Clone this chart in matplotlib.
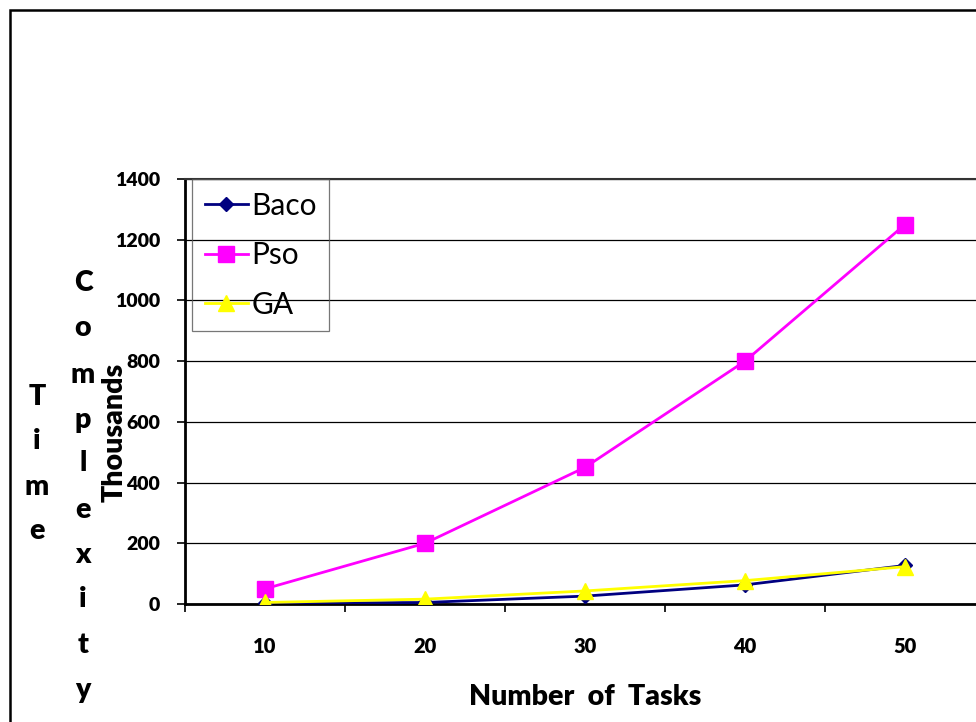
import matplotlib
matplotlib.use("Agg")
import matplotlib.pyplot as plt
from matplotlib.patches import Rectangle
from matplotlib.ticker import FixedLocator, NullFormatter, FixedFormatter

plt.rcParams['font.family'] = ['Lato', 'DejaVu Sans']

categories = ["10", "20", "30", "40", "50"]
baco = [2, 5, 26, 63, 127]
pso = [50, 200, 450, 800, 1250]
ga = [5, 16, 43, 77, 123]
yticks = [0, 200, 400, 600, 800, 1000, 1200, 1400]

W, H = 976, 722
fig = plt.figure(figsize=(W / 100, H / 100), dpi=100)

# outer figure border (cut off at right/bottom)
fig.patches.append(Rectangle((10 / W, -0.05), 1.2, 1 - 10 / H + 0.05,
                             transform=fig.transFigure, fill=False,
                             edgecolor='black', linewidth=1.8))

ax = fig.add_axes([185 / W, 1 - 604 / H, 800 / W, 425 / H])
x = list(range(len(categories)))

ax.plot(x, baco, color='#000080', marker='D', markersize=7, linewidth=2, label='Baco', zorder=3)
ax.plot(x, pso, color='#FF00FF', marker='s', markersize=11, linewidth=2, label='Pso', zorder=3)
ax.plot(x, ga, color='#FFFF00', marker='^', markersize=11, linewidth=2, label='GA', zorder=4)

ax.set_xlim(-0.5, len(categories) - 0.5)
ax.set_ylim(0, 1400)
ax.set_yticks(yticks)
ax.set_yticklabels([str(v) for v in yticks])
ax.yaxis.grid(True, color='black', linewidth=0.9)
ax.set_axisbelow(True)

# category boundaries as major ticks, labels at centers via minor ticks
ax.xaxis.set_major_locator(FixedLocator([i - 0.5 for i in range(len(categories) + 1)]))
ax.xaxis.set_major_formatter(NullFormatter())
ax.xaxis.set_minor_locator(FixedLocator(x))
ax.xaxis.set_minor_formatter(FixedFormatter(categories))
ax.tick_params(axis='x', which='major', length=6, width=1.2, direction='out')
ax.tick_params(axis='x', which='minor', length=0, pad=24, labelsize=14.5)
ax.tick_params(axis='y', length=6, width=1.2, pad=12, labelsize=14)
for lab in ax.get_xticklabels(minor=True) + ax.get_yticklabels():
    lab.set_fontweight('heavy')

ax.spines['right'].set_visible(False)
ax.spines['left'].set_linewidth(2)
ax.spines['bottom'].set_linewidth(2)
ax.spines['top'].set_linewidth(1.5)
ax.spines['top'].set_color('#333333')

leg = ax.legend(loc='upper left', bbox_to_anchor=(7 / 800, 1.0), borderaxespad=0,
                fontsize=21.5, frameon=True, fancybox=False,
                facecolor='none', edgecolor='#555555', handlelength=1.45,
                handletextpad=0.12, labelspacing=0.72, borderpad=0.42)
leg.get_frame().set_linewidth(0.9)

ax.set_xlabel("Number  of  Tasks", fontsize=20.5, fontweight='heavy', labelpad=20)
fig.text(115 / W, 1 - 432 / H, "Thousands", rotation=90, fontsize=20.5,
         fontweight='heavy', ha='center', va='center')

time_letters = list("Time")
time_y = [397, 441, 487, 531]
for ch, yy in zip(time_letters, time_y):
    fig.text(37 / W, 1 - yy / H, ch, fontsize=20.5, fontweight='heavy', ha='center', va='center')

comp_letters = list("Complexity")
comp_y = [283, 328, 375, 420, 463, 510, 555, 599, 645, 690]
for ch, yy in zip(comp_letters, comp_y):
    fig.text(83 / W, 1 - yy / H, ch, fontsize=20.5, fontweight='heavy', ha='center', va='center')

fig.savefig("out.png", dpi=100)
